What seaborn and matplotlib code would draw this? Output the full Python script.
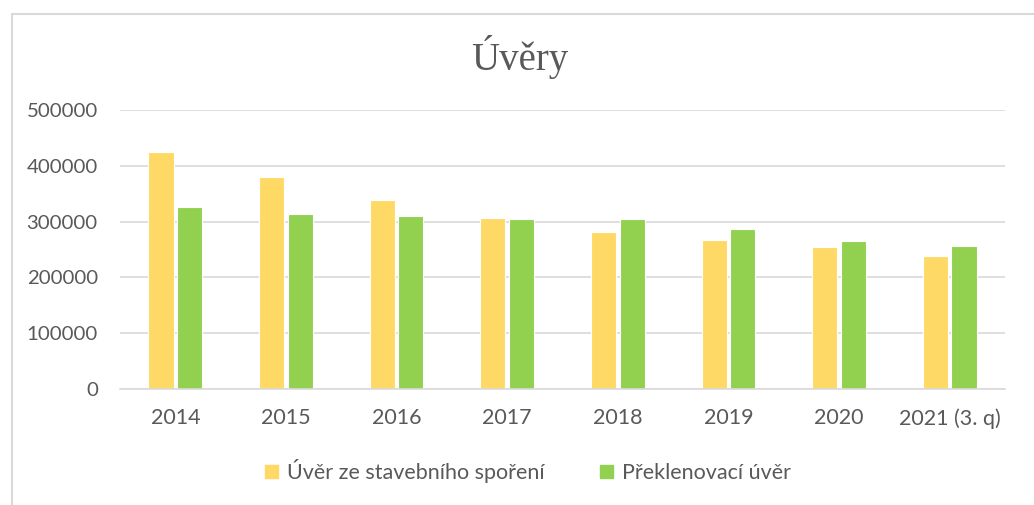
import pandas as pd
import numpy as np
import matplotlib.pyplot as plt
import matplotlib.patches as mpatches
import seaborn as sns

roky = ["2014", "2015", "2016", "2017", "2018", "2019", "2020", "2021 (3. q)"]
uver_sporeni = [424000, 380000, 339000, 307000, 282000, 267000, 254000, 238000]
preklenovaci = [326000, 313000, 310000, 304000, 304000, 287000, 265000, 257000]
serie = ["Úvěr ze stavebního spoření", "Překlenovací úvěr"]

df = pd.DataFrame({
    "rok": roky * 2,
    "hodnota": uver_sporeni + preklenovaci,
    "typ": [serie[0]] * len(roky) + [serie[1]] * len(roky),
})

sns.set_style("white")
plt.rcParams['font.family'] = ['Lato', 'DejaVu Sans']

fig = plt.figure(figsize=(10.34, 5.05), dpi=100)
ax = fig.add_axes([120 / 1034, 1 - 389 / 505, 885 / 1034, 279 / 505])

barvy = {serie[0]: "#FFD966", serie[1]: "#92D050"}
sns.barplot(data=df, x="rok", y="hodnota", hue="typ", palette=barvy, saturation=1,
            width=0.516, gap=0.12, edgecolor="white", linewidth=0.8,
            ax=ax, legend=False)

ax.set_ylim(0, 500000)
ax.set_yticks([0, 100000, 200000, 300000, 400000, 500000])
ax.set_yticklabels(["0", "100000", "200000", "300000", "400000", "500000"])
ax.yaxis.grid(True, color="#D9D9D9", linewidth=1.2)
ax.set_axisbelow(True)
for s in ["top", "right", "left"]:
    ax.spines[s].set_visible(False)
ax.spines["bottom"].set_color("#D9D9D9")
ax.spines["bottom"].set_linewidth(1.2)
ax.tick_params(axis="both", length=0, labelsize=15.5, colors="#595959")
ax.tick_params(axis="y", labelsize=14.7, pad=16)
ax.tick_params(axis="x", pad=14)
ax.set_xlabel("")
ax.set_ylabel("")

fig.text(520 / 1034, 1 - 57 / 505, "Úvěry", ha="center", va="center",
         fontsize=28, color="#595959", family=["Liberation Serif", "DejaVu Serif"])

handles = [mpatches.Patch(color=barvy[s], label=s) for s in serie]
fig.legend(handles=handles, loc="center", bbox_to_anchor=(528 / 1034, 1 - 471 / 505),
           ncol=2, frameon=False, fontsize=15.5, labelcolor="#595959",
           handlelength=0.6, handleheight=0.6, handletextpad=0.4, columnspacing=2.6)

# ramecek grafu
fig.add_artist(plt.Line2D([12 / 1034, 12 / 1034], [0, 1 - 14 / 505], color="#D9D9D9", linewidth=1.5))
fig.add_artist(plt.Line2D([12 / 1034, 1], [1 - 14 / 505, 1 - 14 / 505], color="#D9D9D9", linewidth=1.5))

fig.savefig("out.png", dpi=100)
